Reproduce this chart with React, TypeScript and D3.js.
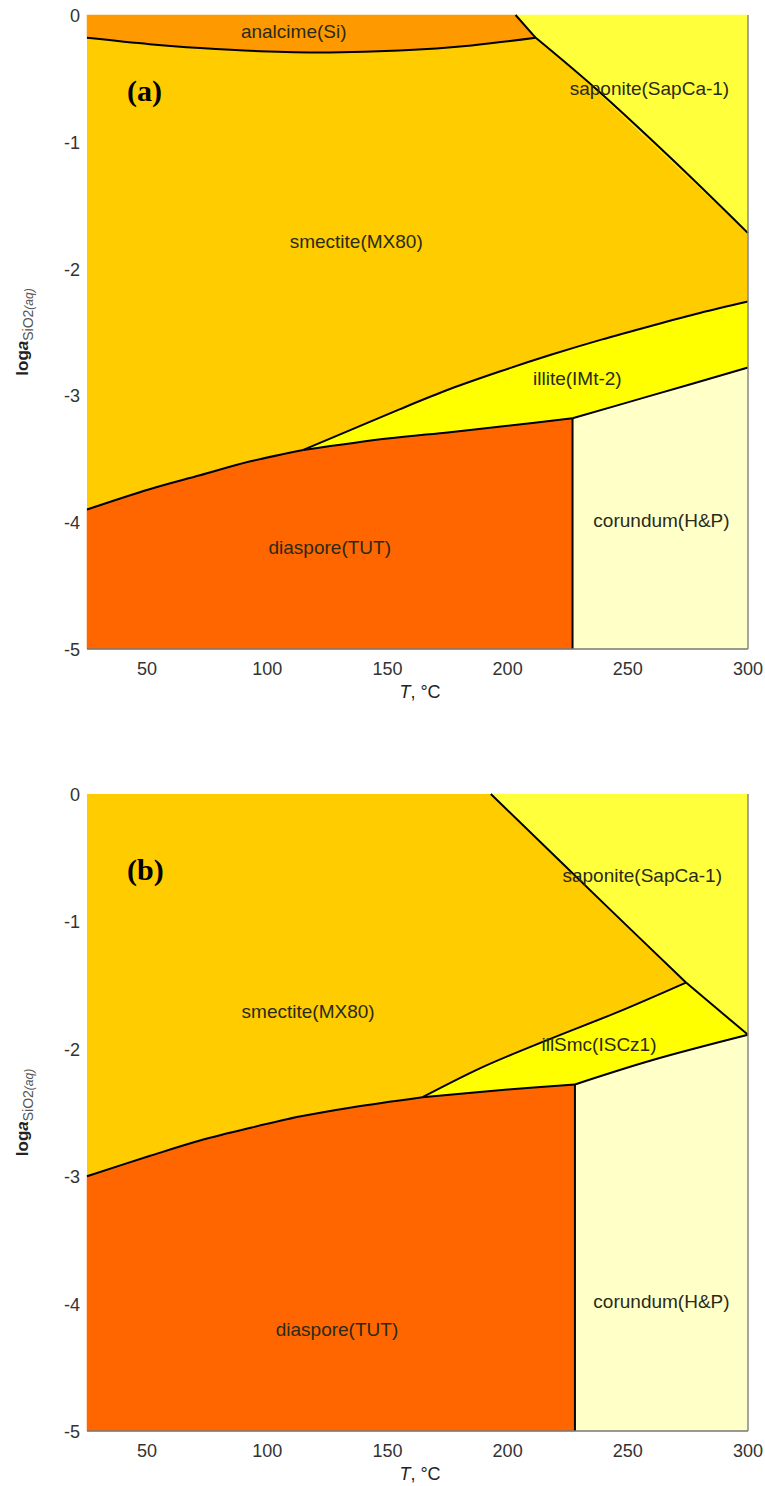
import React from "react";
import * as d3 from "d3";

// Axis domains and ticks shared by both diagrams
const T_DOMAIN: [number, number] = [25, 300];
const LOGA_DOMAIN: [number, number] = [-5, 0];
const T_TICKS = [50, 100, 150, 200, 250, 300];
const LOGA_TICKS = [0, -1, -2, -3, -4, -5];

type Pt = [number, number]; // [T °C, log a SiO2(aq)]

// ---- Diagram (a) phase boundaries ----
const aAnalcimeSmectite: Pt[] = [[25, -0.18], [51, -0.23], [72, -0.26], [97, -0.285], [126, -0.295], [155, -0.28], [185, -0.24], [211.7, -0.18]];
const aSaponiteUpper: Pt[] = [[203.3, 0], [211.7, -0.18]];
const aSaponiteLower: Pt[] = [[211.7, -0.18], [236, -0.57], [268, -1.13], [300, -1.72]];
const aSmectiteIllite: Pt[] = [[115, -3.43], [135, -3.27], [155, -3.11], [176, -2.95], [197, -2.81], [218, -2.68], [239, -2.56], [260, -2.45], [280, -2.35], [300, -2.26]];
const aDiasporeSmectite: Pt[] = [[25, -3.9], [51, -3.74], [72, -3.63], [93, -3.52], [115, -3.43]];
const aDiasporeIllite: Pt[] = [[115, -3.43], [150, -3.34], [176, -3.29], [200, -3.24], [227, -3.18]];
const aIlliteCorundum: Pt[] = [[227, -3.18], [260, -3.0], [300, -2.78]];
const aDiasporeCorundumT = 227;

// ---- Diagram (b) phase boundaries ----
const bSaponiteSmectite: Pt[] = [[193, 0], [241.7, -0.89], [274.2, -1.48]];
const bSaponiteIllSmc: Pt[] = [[274.2, -1.48], [300, -1.89]];
const bSmectiteIllSmc: Pt[] = [[164.6, -2.38], [190, -2.14], [218, -1.92], [246, -1.71], [274.2, -1.48]];
const bDiasporeSmectite: Pt[] = [[25, -3.0], [51.3, -2.84], [72, -2.72], [93, -2.62], [114, -2.53], [135, -2.46], [164.6, -2.38]];
const bDiasporeIllSmc: Pt[] = [[164.6, -2.38], [200, -2.32], [228, -2.28]];
const bIllSmcCorundum: Pt[] = [[228, -2.28], [260, -2.09], [300, -1.89]];
const bDiasporeCorundumT = 228;

// Phase colours
const COLORS = {
  analcime: "#FF9900",
  smectite: "#FFCC00",
  saponite: "#FFFF3C",
  illite: "#FFFF00",
  diaspore: "#FF6600",
  corundum: "#FFFFC8",
};

type Region = { fill: string; pieces: Pt[][] };
type Label = { text: string; T: number; v: number };
type Panel = {
  tag: string;
  top: number;
  bottom: number;
  regions: Region[];
  lines: Pt[][];
  labels: Label[];
};

const rev = (p: Pt[]) => p.slice().reverse();

const PANELS: Panel[] = [
  {
    tag: "(a)",
    top: 15,
    bottom: 649,
    regions: [
      { fill: COLORS.analcime, pieces: [[[25, 0]], aSaponiteUpper, rev(aAnalcimeSmectite)] },
      { fill: COLORS.saponite, pieces: [[[203.3, 0], [300, 0]], [[300, -1.72]], rev(aSaponiteLower), rev(aSaponiteUpper)] },
      { fill: COLORS.illite, pieces: [aSmectiteIllite, [[300, -2.78]], rev(aIlliteCorundum), rev(aDiasporeIllite)] },
      { fill: COLORS.diaspore, pieces: [aDiasporeSmectite, aDiasporeIllite, [[aDiasporeCorundumT, -5], [25, -5]]] },
      { fill: COLORS.corundum, pieces: [aIlliteCorundum, [[300, -5], [aDiasporeCorundumT, -5]]] },
    ],
    lines: [aAnalcimeSmectite, aSaponiteUpper, aSaponiteLower, aSmectiteIllite, aDiasporeSmectite, aDiasporeIllite, aIlliteCorundum, [[aDiasporeCorundumT, -3.18], [aDiasporeCorundumT, -5]]],
    labels: [
      { text: "analcime(Si)", T: 111, v: -0.13 },
      { text: "smectite(MX80)", T: 137, v: -1.79 },
      { text: "saponite(SapCa-1)", T: 259, v: -0.58 },
      { text: "illite(IMt-2)", T: 229, v: -2.87 },
      { text: "diaspore(TUT)", T: 126, v: -4.2 },
      { text: "corundum(H&P)", T: 264, v: -3.99 },
    ],
  },
  {
    tag: "(b)",
    top: 794,
    bottom: 1431,
    regions: [
      { fill: COLORS.saponite, pieces: [[[193, 0], [300, 0]], [[300, -1.89]], rev(bSaponiteIllSmc), rev(bSaponiteSmectite)] },
      { fill: COLORS.illite, pieces: [bSmectiteIllSmc, bSaponiteIllSmc, rev(bIllSmcCorundum), rev(bDiasporeIllSmc)] },
      { fill: COLORS.diaspore, pieces: [bDiasporeSmectite, bDiasporeIllSmc, [[bDiasporeCorundumT, -5], [25, -5]]] },
      { fill: COLORS.corundum, pieces: [bIllSmcCorundum, [[300, -5], [bDiasporeCorundumT, -5]]] },
    ],
    lines: [bSaponiteSmectite, bSaponiteIllSmc, bSmectiteIllSmc, bDiasporeSmectite, bDiasporeIllSmc, bIllSmcCorundum, [[bDiasporeCorundumT, -2.28], [bDiasporeCorundumT, -5]]],
    labels: [
      { text: "saponite(SapCa-1)", T: 256, v: -0.64 },
      { text: "smectite(MX80)", T: 117, v: -1.71 },
      { text: "illSmc(ISCz1)", T: 238, v: -1.97 },
      { text: "diaspore(TUT)", T: 129, v: -4.2 },
      { text: "corundum(H&P)", T: 264, v: -3.98 },
    ],
  },
];

const X_LEFT = 87;
const X_RIGHT = 748;
const FONT = "'Liberation Sans', Arial, sans-serif";

function PhasePanel({ panel }: { panel: Panel }) {
  const x = d3.scaleLinear().domain(T_DOMAIN).range([X_LEFT, X_RIGHT]);
  const y = d3.scaleLinear().domain(LOGA_DOMAIN).range([panel.bottom, panel.top]);
  const curve = d3.line<Pt>().x((d) => x(d[0])).y((d) => y(d[1])).curve(d3.curveCatmullRom.alpha(0.5));
  const straight = d3.line<Pt>().x((d) => x(d[0])).y((d) => y(d[1]));

  const regionPath = (r: Region) =>
    r.pieces
      .map((p, i) => {
        const s = (p.length > 2 ? curve(p) : straight(p)) || "";
        return i === 0 ? s : "L" + s.slice(1);
      })
      .join("") + "Z";

  const linePath = (p: Pt[]) => (p.length > 2 ? curve(p) : straight(p)) || "";
  const midY = (panel.top + panel.bottom) / 2;

  return (
    <g>
      <rect x={X_LEFT} y={panel.top} width={X_RIGHT - X_LEFT} height={panel.bottom - panel.top} fill={COLORS.smectite} />
      {panel.regions.map((r, i) => (
        <path key={i} d={regionPath(r)} fill={r.fill} stroke={r.fill} strokeWidth={0.5} />
      ))}
      {panel.lines.map((p, i) => (
        <path key={i} d={linePath(p)} fill="none" stroke="#000" strokeWidth={2} strokeLinejoin="round" />
      ))}
      {/* frame */}
      <line x1={X_LEFT} x2={X_RIGHT} y1={panel.bottom} y2={panel.bottom} stroke="#777" strokeWidth={1.5} />
      <line x1={X_RIGHT} x2={X_RIGHT} y1={panel.top} y2={panel.bottom} stroke="#888" strokeWidth={1.5} />

      {panel.labels.map((l, i) => (
        <text key={i} x={x(l.T)} y={y(l.v)} textAnchor="middle" dominantBaseline="central" fontFamily={FONT} fontSize={19} fill="#2a2a1a">
          {l.text}
        </text>
      ))}

      <text x={127} y={panel.top + 86} fontFamily="'Liberation Serif', 'Times New Roman', serif" fontWeight="bold" fontSize={30} fill="#000">
        {panel.tag}
      </text>

      {T_TICKS.map((t) => (
        <text key={t} x={x(t)} y={panel.bottom + 26} textAnchor="middle" fontFamily={FONT} fontSize={18} fill="#333">
          {t}
        </text>
      ))}
      {LOGA_TICKS.map((t) => (
        <text key={t} x={80} y={y(t) + 1} textAnchor="end" dominantBaseline="central" fontFamily={FONT} fontSize={18} fill="#333">
          {t}
        </text>
      ))}

      <text x={420} y={panel.bottom + 49} textAnchor="middle" fontFamily={FONT} fontSize={18} fill="#222">
        <tspan fontStyle="italic">T</tspan>, °C
      </text>

      <text transform={`translate(28,${midY}) rotate(-90)`} textAnchor="middle" fontFamily={FONT} fill="#222">
        <tspan fontSize={17} fontWeight="bold">log</tspan>
        <tspan fontSize={17} fontWeight="bold" fontStyle="italic">a</tspan>
        <tspan fontSize={14} dy={5} fill="#555">SiO2</tspan>
        <tspan fontSize={12} fontStyle="italic" fill="#555">(aq)</tspan>
      </text>
    </g>
  );
}

export default function App() {
  return (
    <svg width={765} height={1486} style={{ position: "absolute", left: 0, top: 0, background: "#fff" }}>
      {PANELS.map((p) => (
        <PhasePanel key={p.tag} panel={p} />
      ))}
    </svg>
  );
}
